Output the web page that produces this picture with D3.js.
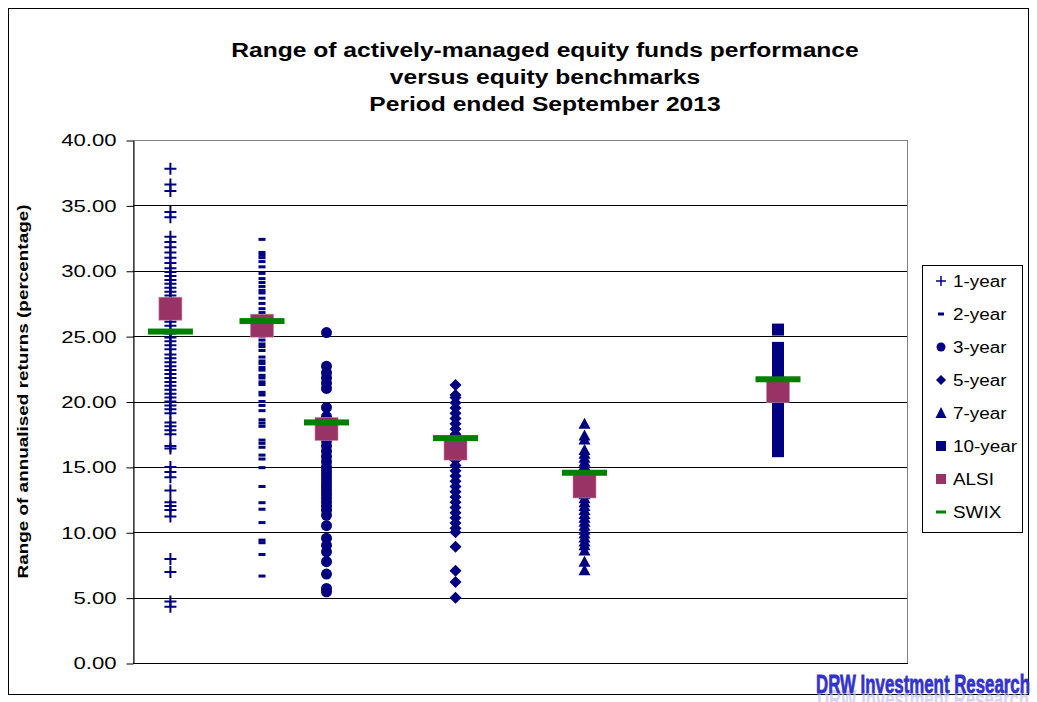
<!DOCTYPE html>
<html>
<head>
  <meta charset="utf-8">
  <title>Range of actively-managed equity funds performance</title>
  <style>
    body { margin: 0; background: #fff; }
    svg { display: block; font-family: "Liberation Sans", Arial, sans-serif; }
  </style>
</head>
<body>
  <div id="chart"></div>
  <script src="https://cdn.jsdelivr.net/npm/d3@7"></script>
  <script type="text/javascript">
    // x position of each period on the hidden horizontal axis (0..12)
    var periods = ["1-year", "2-year", "3-year", "5-year", "7-year", "10-year"];
    var xPos = [0.58, 2, 3, 5, 7, 10];

    var oneYear = [37.8, 36.6, 36.1, 34.5, 34.1, 32.6, 32.2, 31.8, 31.4, 31.0, 30.6, 30.2, 29.9, 29.6, 29.3,
      29.0, 28.7, 28.4, 28.1, 27.8, 27.5, 27.2, 26.9, 26.6, 26.1, 25.8, 25.2, 24.9, 24.6, 24.3, 24.0, 23.6,
      23.3, 23.0, 22.7, 22.4, 22.1, 21.8, 21.5, 21.2, 20.9, 20.6, 20.3, 20.0, 19.7, 19.4, 19.1, 18.4, 18.1,
      17.8, 17.5, 16.6, 16.4, 15.0, 14.6, 14.2, 13.2, 12.3, 12.0, 11.7, 11.2, 7.95, 6.96, 4.7, 4.3];
    var twoYear = [32.4, 31.4, 31.2, 31.0, 30.7, 30.3, 29.8, 29.4, 29.1, 28.8, 28.5, 28.3, 27.9, 27.5, 27.1,
      26.8, 25.0, 24.7, 24.4, 24.2, 23.9, 23.4, 23.1, 22.9, 22.6, 22.4, 22.0, 21.8, 21.5, 21.3, 20.7, 20.5,
      20.0, 19.7, 19.3, 18.6, 18.35, 18.1, 17.05, 16.8, 16.5, 15.9, 15.6, 14.94, 13.5, 12.26, 11.76, 10.74,
      9.4, 9.2, 8.3, 6.65];
    var threeYear = [25.27, 22.7, 22.2, 21.8, 21.4, 21.0, 19.55, 18.85, 17.9, 17.4, 17.0, 16.6, 16.2, 15.8,
      15.4, 15.0, 14.7, 14.4, 14.1, 13.8, 13.5, 13.2, 12.9, 12.6, 12.3, 12.0, 11.7, 11.3, 10.5, 9.55, 9.0,
      8.5, 7.75, 6.8, 5.7, 5.45];
    var fiveYear = [21.26, 20.5, 20.3, 19.9, 19.5, 19.1, 18.7, 18.3, 17.9, 17.5, 17.0, 16.5, 16.0, 15.5,
      15.1, 14.7, 14.3, 13.9, 13.5, 13.1, 12.7, 12.3, 11.9, 11.5, 11.1, 10.7, 10.3, 10.0, 8.9, 7.06, 6.2, 5.0];
    var sevenYear = [18.3, 17.4, 17.1, 16.3, 16.0, 15.7, 15.4, 15.1, 14.8, 14.4, 14.1, 13.8, 13.5, 13.2,
      12.9, 12.6, 12.3, 12.0, 11.7, 11.4, 11.1, 10.8, 10.5, 10.2, 9.9, 9.6, 9.3, 9.0, 8.6, 7.75, 7.1];
    var tenYear = [25.5, 24.1, 23.7, 23.3, 22.9, 22.5, 22.1, 21.7, 21.3, 20.9, 20.5, 20.1, 19.6, 19.2,
      18.8, 18.4, 18.0, 17.6, 17.2, 16.8, 16.5, 16.2];
    var alsi = [27.1, 25.8, 17.9, 16.4, 13.5, 20.8];
    var swix = [25.35, 26.15, 18.4, 17.2, 14.55, 21.7];

    var yTicks = [0, 5, 10, 15, 20, 25, 30, 35, 40];
    var titleLines = ["Range of actively-managed equity funds performance",
      "versus equity benchmarks", "Period ended September 2013"];
    var legendNames = ["1-year", "2-year", "3-year", "5-year", "7-year", "10-year", "ALSI", "SWIX"];

    var w = 1037;
    var h = 702;
    var navy = "#000080";

    // the original is drawn with wide glyphs: stretch text horizontally
    function widen(sel, factor) {
      sel.each(function() {
        var len = this.getComputedTextLength();
        d3.select(this)
          .attr("textLength", len * factor)
          .attr("lengthAdjust", "spacingAndGlyphs");
      });
    }

    var svg = d3.select("#chart")
      .append("svg")
      .attr("width", w)
      .attr("height", h);

    // chart area border
    svg.append("rect")
      .attr("x", 8.5).attr("y", 8.5)
      .attr("width", 1020).attr("height", 686)
      .attr("fill", "#fff").attr("stroke", "#000").attr("stroke-width", 1);

    var plot = { left: 133, right: 907, top: 140, bottom: 663 };

    var x = d3.scaleLinear().domain([0, 12]).range([plot.left, plot.right]);
    var y = d3.scaleLinear().domain([0, 40]).range([plot.bottom, plot.top]);

    // plot area frame
    svg.append("rect")
      .attr("x", plot.left + 0.5).attr("y", plot.top + 0.5)
      .attr("width", plot.right - plot.left).attr("height", plot.bottom - plot.top)
      .attr("fill", "none").attr("stroke", "#808080");

    // gridlines
    svg.append("g")
      .selectAll("line")
      .data(yTicks.filter(function(d) { return d > 0 && d < 40; }))
      .enter()
      .append("line")
      .attr("x1", plot.left).attr("x2", plot.right)
      .attr("y1", function(d) { return Math.round(y(d)) + 0.5; })
      .attr("y2", function(d) { return Math.round(y(d)) + 0.5; })
      .attr("stroke", "#000");

    // x baseline
    svg.append("line")
      .attr("x1", plot.left).attr("x2", plot.right + 1)
      .attr("y1", plot.bottom + 0.5).attr("y2", plot.bottom + 0.5)
      .attr("stroke", "#000");

    // y axis
    var yAxis = d3.axisLeft(y)
      .tickValues(yTicks)
      .tickFormat(d3.format(".2f"))
      .tickSize(7)
      .tickSizeOuter(0)
      .tickPadding(10);

    var gy = svg.append("g")
      .attr("transform", "translate(" + (plot.left + 0.5) + ",0.5)")
      .call(yAxis);
    gy.select(".domain").attr("stroke", "#000");
    gy.selectAll(".tick line").attr("stroke", "#000");
    gy.selectAll(".tick text")
      .attr("font-size", 17)
      .attr("font-family", "Liberation Sans, Arial, sans-serif")
      .attr("fill", "#000")
      .call(widen, 1.3);

    // y axis title
    svg.append("text")
      .attr("transform", "translate(28," + 391.5 + ") rotate(-90)")
      .attr("text-anchor", "middle")
      .attr("font-size", 15.5)
      .attr("font-weight", "bold")
      .text("Range of annualised returns (percentage)")
      .call(widen, 1.22);

    // title
    svg.append("g")
      .selectAll("text")
      .data(titleLines)
      .enter()
      .append("text")
      .attr("x", 545)
      .attr("y", function(d, i) { return 57 + i * 27; })
      .attr("text-anchor", "middle")
      .attr("font-size", 20)
      .attr("font-weight", "bold")
      .text(function(d) { return d; })
      .call(widen, 1.23);

    // marker painters
    function cross(g, cx, cy) {
      g.append("path")
        .attr("d", "M" + (cx - 6) + "," + cy + "H" + (cx + 6) + "M" + cx + "," + (cy - 6) + "V" + (cy + 6))
        .attr("stroke", navy).attr("stroke-width", 2).attr("fill", "none");
    }
    function dash(g, cx, cy) {
      g.append("rect").attr("x", cx - 3.5).attr("y", cy - 1.5).attr("width", 7).attr("height", 3).attr("fill", navy);
    }
    function circle(g, cx, cy) {
      g.append("circle").attr("cx", cx).attr("cy", cy).attr("r", 5.5).attr("fill", navy);
    }
    function diamond(g, cx, cy) {
      g.append("path").attr("d", "M" + cx + "," + (cy - 6) + "L" + (cx + 6) + "," + cy + "L" + cx + "," + (cy + 6) + "L" + (cx - 6) + "," + cy + "Z")
        .attr("fill", navy);
    }
    function triangle(g, cx, cy) {
      g.append("path").attr("d", "M" + cx + "," + (cy - 6) + "L" + (cx + 6) + "," + (cy + 5) + "L" + (cx - 6) + "," + (cy + 5) + "Z")
        .attr("fill", navy);
    }
    function square(g, cx, cy) {
      g.append("rect").attr("x", cx - 6).attr("y", cy - 6).attr("width", 12).attr("height", 12).attr("fill", navy);
    }
    function alsiMark(g, cx, cy) {
      g.append("rect").attr("x", cx - 11.5).attr("y", cy - 11.5).attr("width", 23).attr("height", 23)
        .attr("fill", "#993366").attr("stroke", "#c58aa6").attr("stroke-width", 0.6);
    }
    function swixMark(g, cx, cy) {
      g.append("rect").attr("x", cx - 22.5).attr("y", cy - 3).attr("width", 45).attr("height", 6).attr("fill", "#008000");
    }

    var fundSeries = [oneYear, twoYear, threeYear, fiveYear, sevenYear, tenYear];
    var painters = [cross, dash, circle, diamond, triangle, square];

    var marks = svg.append("g");
    fundSeries.forEach(function(vals, i) {
      var g = marks.append("g").attr("class", "series-" + periods[i]);
      vals.forEach(function(v) {
        painters[i](g, x(xPos[i]), y(v));
      });
    });

    var gAlsi = marks.append("g");
    alsi.forEach(function(v, i) { alsiMark(gAlsi, x(xPos[i]), y(v)); });
    var gSwix = marks.append("g");
    swix.forEach(function(v, i) { swixMark(gSwix, x(xPos[i]), y(v)); });

    // legend
    var lg = svg.append("g");
    lg.append("rect")
      .attr("x", 922.5).attr("y", 265.5)
      .attr("width", 100).attr("height", 267)
      .attr("fill", "#fff").attr("stroke", "#000");

    var legendPainters = [
      function(g, cx, cy) { g.append("path").attr("d", "M" + (cx - 5) + "," + cy + "H" + (cx + 5) + "M" + cx + "," + (cy - 5) + "V" + (cy + 5)).attr("stroke", navy).attr("stroke-width", 1.5); },
      function(g, cx, cy) { g.append("rect").attr("x", cx - 3).attr("y", cy - 1.5).attr("width", 6).attr("height", 3).attr("fill", navy); },
      function(g, cx, cy) { g.append("circle").attr("cx", cx).attr("cy", cy).attr("r", 4.5).attr("fill", navy); },
      function(g, cx, cy) { g.append("path").attr("d", "M" + cx + "," + (cy - 5) + "L" + (cx + 5) + "," + cy + "L" + cx + "," + (cy + 5) + "L" + (cx - 5) + "," + cy + "Z").attr("fill", navy); },
      function(g, cx, cy) { g.append("path").attr("d", "M" + cx + "," + (cy - 6) + "L" + (cx + 5.5) + "," + (cy + 5) + "L" + (cx - 5.5) + "," + (cy + 5) + "Z").attr("fill", navy); },
      function(g, cx, cy) { g.append("rect").attr("x", cx - 5).attr("y", cy - 5).attr("width", 10).attr("height", 10).attr("fill", navy); },
      function(g, cx, cy) { g.append("rect").attr("x", cx - 5).attr("y", cy - 5).attr("width", 10).attr("height", 10).attr("fill", "#993366"); },
      function(g, cx, cy) { g.append("rect").attr("x", cx - 5).attr("y", cy - 1.5).attr("width", 10).attr("height", 3).attr("fill", "#008000"); }
    ];

    legendNames.forEach(function(name, i) {
      var cy = 281 + i * 33;
      var g = lg.append("g");
      legendPainters[i](g, 941, cy);
      g.append("text")
        .attr("x", 953).attr("y", cy + 6)
        .attr("font-size", 16)
        .text(name)
        .call(widen, 1.18);
    });

    // watermark
    var wm = svg.append("g").attr("font-family", "Liberation Sans Narrow, Liberation Sans, Arial, sans-serif")
      .attr("font-weight", "bold");
    wm.append("text")
      .attr("x", 817).attr("y", 708)
      .attr("font-size", 26)
      .attr("textLength", 212).attr("lengthAdjust", "spacingAndGlyphs")
      .attr("fill", "#c4c4f2")
      .attr("opacity", 0.7)
      .text("DRW Investment Research");
    wm.append("text")
      .attr("x", 816).attr("y", 693)
      .attr("font-size", 26)
      .attr("textLength", 214).attr("lengthAdjust", "spacingAndGlyphs")
      .attr("fill", "#3333cc")
      .attr("stroke", "#3333cc").attr("stroke-width", 0.8)
      .text("DRW Investment Research");
  </script>
</body>
</html>
